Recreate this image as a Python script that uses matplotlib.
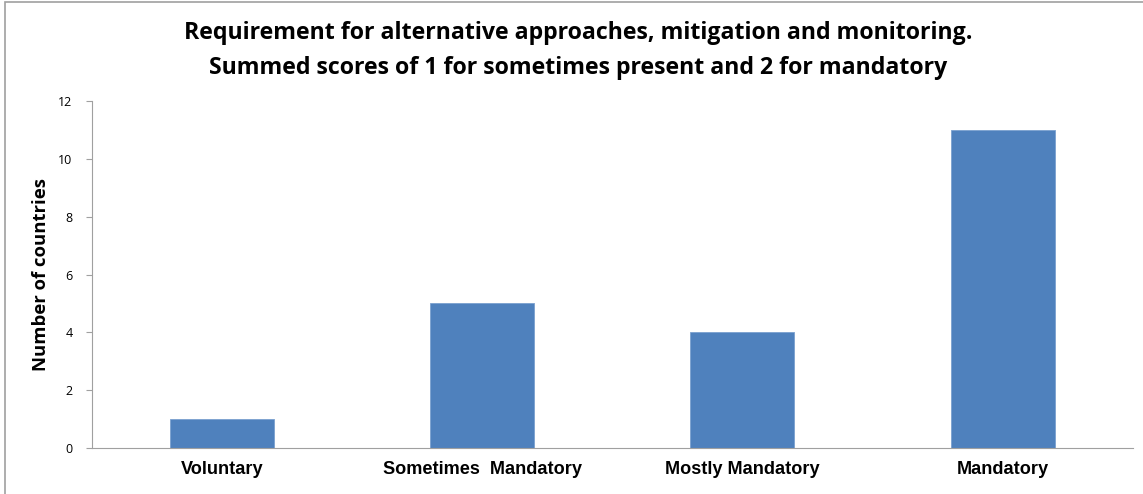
import matplotlib
matplotlib.use('Agg')
import matplotlib.pyplot as plt
from matplotlib.patches import Rectangle

categories = ['Voluntary', 'Sometimes  Mandatory', 'Mostly Mandatory', 'Mandatory']
counts = [1, 5, 4, 11]
yticks = [0, 2, 4, 6, 8, 10, 12]

title = ('Requirement for alternative approaches, mitigation and monitoring.\n'
         'Summed scores of 1 for sometimes present and 2 for mandatory')

fig = plt.figure(figsize=(11.43, 4.94), dpi=100)
fig.patches.append(Rectangle((0.004, -0.01), 1.0, 1.006, transform=fig.transFigure,
                             fill=False, edgecolor='#a0a0a0', linewidth=1.2))
ax = fig.add_axes([0.0805, 0.0931, 0.9105, 0.7024])

x = range(len(categories))
ax.bar(x, counts, width=0.4, color='#4F81BD', edgecolor='#7aa0cf', linewidth=0.6)

ax.set_xlim(-0.5, len(categories) - 0.5)
ax.set_ylim(0, 12)
ax.set_yticks(yticks)
ax.set_yticklabels([str(t) for t in yticks], fontsize=9, family='Open Sans')
ax.set_xticks(list(x))
ax.set_xticklabels(categories, fontsize=13.1, fontweight='bold', family='Liberation Sans')
ax.tick_params(axis='x', length=0, pad=9)
ax.tick_params(axis='y', length=4, color='#a0a0a0', pad=10)

for s in ['top', 'right']:
    ax.spines[s].set_visible(False)
ax.spines['left'].set_color('#a0a0a0')
ax.spines['bottom'].set_color('#a0a0a0')

ax.set_ylabel('Number of countries', fontsize=13.3, fontweight='bold', family='Open Sans', labelpad=6)

fig.text(0.506, 0.897, title, ha='center', va='center', fontsize=16.7,
         fontweight='bold', family='Open Sans', linespacing=1.6)

fig.savefig('out.png', dpi=100)
